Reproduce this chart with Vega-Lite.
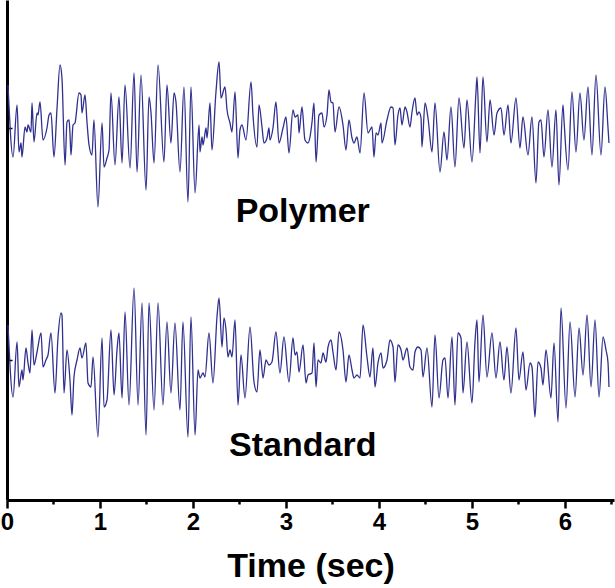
{
  "$schema": "https://vega.github.io/schema/vega-lite/v6.json",
  "autosize": "none",
  "padding": {"left": 7, "right": 1, "top": 0, "bottom": 88},
  "width": 607,
  "height": 500,
  "background": "white",
  "config": {"view": {"stroke": null}, "font": "Liberation Sans"},
  "datasets": {
    "polymer": [{"t":0.011,"v":2.75},{"t":0.065,"v":2.03},{"t":0.108,"v":2.55},{"t":0.129,"v":2.08},{"t":0.151,"v":2.17},{"t":0.161,"v":2.03},{"t":0.194,"v":2.33},{"t":0.215,"v":2.28},{"t":0.226,"v":2.35},{"t":0.258,"v":2.28},{"t":0.269,"v":2.57},{"t":0.290,"v":2.18},{"t":0.323,"v":2.47},{"t":0.333,"v":2.45},{"t":0.355,"v":2.58},{"t":0.387,"v":2.20},{"t":0.430,"v":2.32},{"t":0.452,"v":2.45},{"t":0.473,"v":2.47},{"t":0.505,"v":2.03},{"t":0.538,"v":2.52},{"t":0.570,"v":2.95},{"t":0.591,"v":2.82},{"t":0.624,"v":1.95},{"t":0.645,"v":2.38},{"t":0.667,"v":2.40},{"t":0.677,"v":2.27},{"t":0.688,"v":2.05},{"t":0.710,"v":2.35},{"t":0.731,"v":2.37},{"t":0.774,"v":2.67},{"t":0.796,"v":2.65},{"t":0.806,"v":2.47},{"t":0.839,"v":2.65},{"t":0.860,"v":2.38},{"t":0.882,"v":2.15},{"t":0.914,"v":2.05},{"t":0.935,"v":2.40},{"t":0.978,"v":1.53},{"t":1.022,"v":2.37},{"t":1.043,"v":1.93},{"t":1.075,"v":2.02},{"t":1.097,"v":2.10},{"t":1.118,"v":2.67},{"t":1.161,"v":1.95},{"t":1.204,"v":2.63},{"t":1.237,"v":1.97},{"t":1.269,"v":2.75},{"t":1.323,"v":1.92},{"t":1.366,"v":2.87},{"t":1.398,"v":1.88},{"t":1.441,"v":2.85},{"t":1.495,"v":1.70},{"t":1.527,"v":2.63},{"t":1.548,"v":2.48},{"t":1.581,"v":1.97},{"t":1.624,"v":2.95},{"t":1.688,"v":1.98},{"t":1.720,"v":2.75},{"t":1.763,"v":2.17},{"t":1.796,"v":2.67},{"t":1.817,"v":2.58},{"t":1.860,"v":1.88},{"t":1.903,"v":2.73},{"t":1.946,"v":1.58},{"t":1.978,"v":2.73},{"t":2.022,"v":1.67},{"t":2.065,"v":2.35},{"t":2.075,"v":2.08},{"t":2.097,"v":2.23},{"t":2.108,"v":2.15},{"t":2.140,"v":2.32},{"t":2.151,"v":2.22},{"t":2.183,"v":2.57},{"t":2.204,"v":2.10},{"t":2.247,"v":2.68},{"t":2.280,"v":2.98},{"t":2.301,"v":2.62},{"t":2.344,"v":2.73},{"t":2.366,"v":2.50},{"t":2.398,"v":2.37},{"t":2.419,"v":2.28},{"t":2.452,"v":2.68},{"t":2.484,"v":2.02},{"t":2.505,"v":2.30},{"t":2.527,"v":2.35},{"t":2.570,"v":2.20},{"t":2.624,"v":2.78},{"t":2.645,"v":2.45},{"t":2.688,"v":2.13},{"t":2.710,"v":2.55},{"t":2.742,"v":2.33},{"t":2.763,"v":2.17},{"t":2.796,"v":2.22},{"t":2.817,"v":2.32},{"t":2.828,"v":2.20},{"t":2.860,"v":2.32},{"t":2.892,"v":2.58},{"t":2.925,"v":2.17},{"t":2.968,"v":2.32},{"t":3.000,"v":2.43},{"t":3.032,"v":2.07},{"t":3.075,"v":2.50},{"t":3.097,"v":2.43},{"t":3.129,"v":2.45},{"t":3.140,"v":2.27},{"t":3.172,"v":2.53},{"t":3.204,"v":2.20},{"t":3.237,"v":2.17},{"t":3.258,"v":2.23},{"t":3.280,"v":2.38},{"t":3.301,"v":2.57},{"t":3.323,"v":1.98},{"t":3.355,"v":2.45},{"t":3.387,"v":2.47},{"t":3.409,"v":2.33},{"t":3.441,"v":2.45},{"t":3.462,"v":2.70},{"t":3.484,"v":2.58},{"t":3.505,"v":2.57},{"t":3.527,"v":2.28},{"t":3.570,"v":2.53},{"t":3.613,"v":2.35},{"t":3.645,"v":2.10},{"t":3.677,"v":2.40},{"t":3.710,"v":2.22},{"t":3.731,"v":2.17},{"t":3.763,"v":2.23},{"t":3.796,"v":2.07},{"t":3.839,"v":2.67},{"t":3.882,"v":2.27},{"t":3.903,"v":2.30},{"t":3.925,"v":2.33},{"t":3.946,"v":2.03},{"t":3.968,"v":2.27},{"t":3.989,"v":2.25},{"t":4.022,"v":2.37},{"t":4.032,"v":2.17},{"t":4.086,"v":2.40},{"t":4.129,"v":2.53},{"t":4.151,"v":2.52},{"t":4.172,"v":2.15},{"t":4.204,"v":2.45},{"t":4.226,"v":2.52},{"t":4.247,"v":2.35},{"t":4.280,"v":2.53},{"t":4.301,"v":2.48},{"t":4.333,"v":2.33},{"t":4.355,"v":2.48},{"t":4.387,"v":2.62},{"t":4.409,"v":2.45},{"t":4.430,"v":2.48},{"t":4.452,"v":2.42},{"t":4.462,"v":2.13},{"t":4.495,"v":2.57},{"t":4.527,"v":2.42},{"t":4.570,"v":2.08},{"t":4.602,"v":2.57},{"t":4.656,"v":1.88},{"t":4.699,"v":2.28},{"t":4.731,"v":2.00},{"t":4.774,"v":2.53},{"t":4.817,"v":1.93},{"t":4.860,"v":2.62},{"t":4.914,"v":2.12},{"t":4.946,"v":2.60},{"t":5.000,"v":1.98},{"t":5.043,"v":2.68},{"t":5.054,"v":2.83},{"t":5.086,"v":2.07},{"t":5.118,"v":2.83},{"t":5.161,"v":2.18},{"t":5.194,"v":2.60},{"t":5.237,"v":2.25},{"t":5.269,"v":2.47},{"t":5.312,"v":2.52},{"t":5.344,"v":2.25},{"t":5.387,"v":2.55},{"t":5.419,"v":2.17},{"t":5.473,"v":2.62},{"t":5.516,"v":2.12},{"t":5.548,"v":2.43},{"t":5.602,"v":2.05},{"t":5.645,"v":2.43},{"t":5.688,"v":1.77},{"t":5.720,"v":2.38},{"t":5.742,"v":2.40},{"t":5.774,"v":2.03},{"t":5.817,"v":2.50},{"t":5.860,"v":1.93},{"t":5.903,"v":2.50},{"t":5.935,"v":1.75},{"t":5.978,"v":2.55},{"t":5.989,"v":2.40},{"t":6.032,"v":1.90},{"t":6.075,"v":2.68},{"t":6.118,"v":2.08},{"t":6.161,"v":2.67},{"t":6.204,"v":2.20},{"t":6.247,"v":2.73},{"t":6.290,"v":2.05},{"t":6.333,"v":2.85},{"t":6.387,"v":2.05},{"t":6.430,"v":2.73},{"t":6.462,"v":2.33},{"t":6.473,"v":2.17}],
    "standard": [{"t":0.011,"v":0.35},{"t":0.065,"v":-0.37},{"t":0.108,"v":0.18},{"t":0.129,"v":-0.27},{"t":0.161,"v":-0.10},{"t":0.172,"v":-0.20},{"t":0.204,"v":0.12},{"t":0.226,"v":-0.03},{"t":0.247,"v":-0.13},{"t":0.269,"v":0.30},{"t":0.290,"v":-0.05},{"t":0.323,"v":0.08},{"t":0.366,"v":0.27},{"t":0.387,"v":-0.07},{"t":0.419,"v":0.00},{"t":0.441,"v":0.05},{"t":0.473,"v":0.27},{"t":0.516,"v":-0.33},{"t":0.548,"v":0.22},{"t":0.581,"v":0.47},{"t":0.591,"v":0.45},{"t":0.613,"v":-0.33},{"t":0.645,"v":0.10},{"t":0.677,"v":-0.20},{"t":0.699,"v":-0.55},{"t":0.720,"v":-0.17},{"t":0.753,"v":0.00},{"t":0.785,"v":0.12},{"t":0.806,"v":0.02},{"t":0.849,"v":0.17},{"t":0.871,"v":-0.23},{"t":0.903,"v":-0.27},{"t":0.925,"v":0.03},{"t":0.978,"v":-0.77},{"t":1.022,"v":0.22},{"t":1.043,"v":-0.47},{"t":1.075,"v":-0.40},{"t":1.118,"v":0.30},{"t":1.151,"v":-0.35},{"t":1.183,"v":0.10},{"t":1.204,"v":0.27},{"t":1.237,"v":-0.38},{"t":1.269,"v":0.48},{"t":1.312,"v":-0.45},{"t":1.366,"v":0.72},{"t":1.409,"v":-0.45},{"t":1.452,"v":0.57},{"t":1.495,"v":-0.75},{"t":1.527,"v":0.57},{"t":1.581,"v":-0.50},{"t":1.624,"v":0.57},{"t":1.677,"v":-0.45},{"t":1.720,"v":0.38},{"t":1.763,"v":-0.33},{"t":1.806,"v":0.37},{"t":1.860,"v":-0.50},{"t":1.892,"v":0.38},{"t":1.946,"v":-0.77},{"t":1.978,"v":0.43},{"t":2.022,"v":-0.75},{"t":2.054,"v":-0.10},{"t":2.075,"v":-0.18},{"t":2.108,"v":-0.13},{"t":2.129,"v":-0.17},{"t":2.172,"v":0.27},{"t":2.215,"v":-0.23},{"t":2.258,"v":0.43},{"t":2.280,"v":0.62},{"t":2.312,"v":0.13},{"t":2.333,"v":0.42},{"t":2.355,"v":0.30},{"t":2.376,"v":0.03},{"t":2.398,"v":0.10},{"t":2.419,"v":0.03},{"t":2.452,"v":0.40},{"t":2.484,"v":-0.45},{"t":2.516,"v":0.05},{"t":2.559,"v":-0.38},{"t":2.613,"v":0.33},{"t":2.656,"v":-0.22},{"t":2.688,"v":-0.32},{"t":2.720,"v":0.10},{"t":2.753,"v":-0.18},{"t":2.785,"v":0.00},{"t":2.817,"v":-0.05},{"t":2.849,"v":-0.02},{"t":2.892,"v":0.28},{"t":2.935,"v":-0.13},{"t":2.978,"v":0.23},{"t":3.032,"v":-0.22},{"t":3.075,"v":0.22},{"t":3.097,"v":0.05},{"t":3.118,"v":0.08},{"t":3.140,"v":-0.12},{"t":3.183,"v":0.15},{"t":3.215,"v":-0.23},{"t":3.237,"v":-0.15},{"t":3.280,"v":-0.13},{"t":3.301,"v":0.17},{"t":3.323,"v":-0.27},{"t":3.344,"v":0.00},{"t":3.376,"v":-0.03},{"t":3.398,"v":0.07},{"t":3.430,"v":-0.02},{"t":3.452,"v":0.13},{"t":3.484,"v":0.20},{"t":3.505,"v":0.08},{"t":3.538,"v":-0.10},{"t":3.570,"v":0.28},{"t":3.613,"v":0.10},{"t":3.645,"v":-0.22},{"t":3.677,"v":0.05},{"t":3.710,"v":-0.10},{"t":3.731,"v":-0.18},{"t":3.763,"v":-0.15},{"t":3.796,"v":-0.18},{"t":3.828,"v":0.35},{"t":3.871,"v":0.03},{"t":3.903,"v":-0.17},{"t":3.935,"v":0.12},{"t":3.957,"v":-0.27},{"t":3.989,"v":-0.03},{"t":4.022,"v":0.07},{"t":4.043,"v":-0.08},{"t":4.086,"v":0.00},{"t":4.118,"v":0.20},{"t":4.151,"v":0.13},{"t":4.172,"v":-0.22},{"t":4.204,"v":0.15},{"t":4.237,"v":0.10},{"t":4.258,"v":0.00},{"t":4.301,"v":0.12},{"t":4.333,"v":-0.07},{"t":4.366,"v":-0.10},{"t":4.387,"v":0.08},{"t":4.419,"v":0.13},{"t":4.452,"v":0.10},{"t":4.473,"v":-0.17},{"t":4.516,"v":0.12},{"t":4.570,"v":-0.47},{"t":4.602,"v":0.25},{"t":4.645,"v":-0.38},{"t":4.688,"v":0.00},{"t":4.710,"v":0.02},{"t":4.742,"v":-0.38},{"t":4.785,"v":0.23},{"t":4.817,"v":-0.45},{"t":4.849,"v":0.27},{"t":4.882,"v":0.22},{"t":4.903,"v":-0.33},{"t":4.946,"v":0.18},{"t":5.000,"v":-0.43},{"t":5.032,"v":0.18},{"t":5.054,"v":0.40},{"t":5.075,"v":-0.22},{"t":5.118,"v":0.45},{"t":5.161,"v":-0.17},{"t":5.215,"v":0.27},{"t":5.258,"v":-0.18},{"t":5.301,"v":0.18},{"t":5.344,"v":-0.20},{"t":5.376,"v":0.13},{"t":5.419,"v":-0.33},{"t":5.473,"v":0.32},{"t":5.505,"v":-0.20},{"t":5.548,"v":0.08},{"t":5.581,"v":-0.30},{"t":5.624,"v":-0.03},{"t":5.645,"v":-0.07},{"t":5.677,"v":-0.57},{"t":5.710,"v":-0.02},{"t":5.742,"v":-0.08},{"t":5.763,"v":-0.25},{"t":5.796,"v":0.10},{"t":5.849,"v":-0.38},{"t":5.882,"v":0.17},{"t":5.925,"v":-0.62},{"t":5.957,"v":0.52},{"t":6.011,"v":-0.48},{"t":6.054,"v":0.38},{"t":6.108,"v":-0.37},{"t":6.151,"v":0.32},{"t":6.194,"v":-0.15},{"t":6.237,"v":0.45},{"t":6.280,"v":-0.27},{"t":6.323,"v":0.40},{"t":6.366,"v":-0.37},{"t":6.409,"v":0.23},{"t":6.441,"v":0.10},{"t":6.462,"v":-0.02},{"t":6.473,"v":-0.27}],
    "labels": [{"t":3.18,"v":1.38,"label":"Polymer"},{"t":3.18,"v":-0.96,"label":"Standard"}]
  },
  "layer": [
    {
      "data": {"name": "polymer"},
      "mark": {"type": "line", "color": "#30308f", "strokeWidth": 1.3, "interpolate": "monotone"},
      "encoding": {
        "x": {
          "field": "t", "type": "quantitative",
          "scale": {"domain": [0, 6.527], "nice": false, "zero": false},
          "axis": {
            "title": "Time (sec)",
            "values": [0, 0.5, 1, 1.5, 2, 2.5, 3, 3.5, 4, 4.5, 5, 5.5, 6, 6.5],
            "labelExpr": "datum.value % 1 === 0 ? format(datum.value, 'd') : ''",
            "labelOverlap": false,
            "labelFlush": false,
            "labelFont": "Liberation Sans",
            "labelFontWeight": "bold",
            "labelFontSize": 24,
            "labelColor": "black",
            "labelPadding": 2,
            "tickSize": {"condition": {"test": "datum.value % 1 !== 0", "value": 4}, "value": 8},
            "tickColor": "black",
            "tickWidth": 2.5,
            "domainColor": "black",
            "domainWidth": 3,
            "grid": false,
            "titleFont": "Liberation Sans",
            "titleFontWeight": "bold",
            "titleFontSize": 34,
            "titleColor": "black",
            "titlePadding": 15
          }
        },
        "y": {
          "field": "v", "type": "quantitative",
          "scale": {"domain": [-1.4, 3.6], "nice": false, "zero": false},
          "axis": {
            "title": null,
            "values": [0, 2.32],
            "labels": false,
            "tickSize": -5,
            "tickColor": "black",
            "tickWidth": 1.5,
            "domainColor": "black",
            "domainWidth": 3,
            "grid": false
          }
        }
      }
    },
    {
      "data": {"name": "standard"},
      "mark": {"type": "line", "color": "#30308f", "strokeWidth": 1.3, "interpolate": "monotone"},
      "encoding": {
        "x": {"field": "t", "type": "quantitative"},
        "y": {"field": "v", "type": "quantitative"}
      }
    },
    {
      "data": {"name": "labels"},
      "mark": {"type": "text", "font": "Liberation Sans", "fontWeight": "bold", "fontSize": 34, "align": "center", "baseline": "alphabetic", "color": "black"},
      "encoding": {
        "x": {"field": "t", "type": "quantitative"},
        "y": {"field": "v", "type": "quantitative"},
        "text": {"field": "label"}
      }
    }
  ]
}
